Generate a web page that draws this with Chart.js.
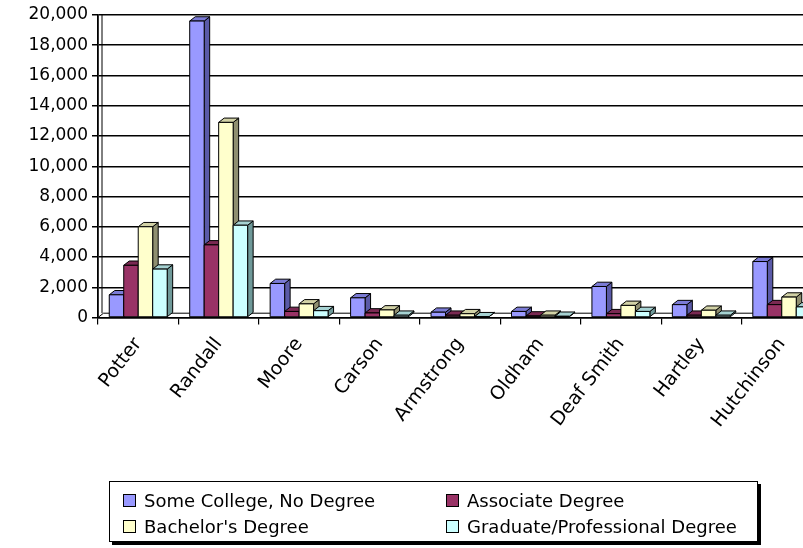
<!DOCTYPE html>
<html>
<head>
<meta charset="utf-8">
<script src="https://cdn.jsdelivr.net/npm/chart.js@4/dist/chart.umd.min.js"></script>
<style>
  html, body { margin: 0; padding: 0; background: #fff; overflow: hidden; }
  #wrap { position: relative; width: 803px; height: 548px; overflow: hidden; }
  #chart { position: absolute; left: 0; top: 0; }
  #legend {
    position: absolute; left: 109px; top: 481px; width: 649px; height: 61px;
    border: 1px solid #000; box-shadow: 3px 3px 0 #000; background: #fff;
    box-sizing: border-box; padding: 5px 0 0 13px;
    display: grid; grid-template-columns: 323px auto; grid-auto-rows: 26px;
    font-family: "DejaVu Sans", sans-serif; font-size: 18px; color: #000;
  }
  .item { display: flex; align-items: center; white-space: nowrap; }
  .swatch { width: 11px; height: 11px; border: 1px solid #000; margin-right: 8px; }
</style>
</head>
<body>
<div id="wrap">
  <canvas id="chart" width="832" height="548"></canvas>
  <div id="legend"></div>
</div>
<script>
const CATEGORIES = ["Potter", "Randall", "Moore", "Carson", "Armstrong", "Oldham", "Deaf Smith", "Hartley", "Hutchinson"];
const SERIES_NAMES = ["Some College, No Degree", "Associate Degree", "Bachelor's Degree", "Graduate/Professional Degree"];
const SOME_COLLEGE = [1500, 19600, 2250, 1300, 350, 400, 2050, 850, 3700];
const ASSOCIATE = [3450, 4800, 400, 300, 150, 100, 250, 150, 850];
const BACHELOR = [6000, 12900, 900, 500, 250, 150, 800, 480, 1350];
const GRADUATE = [3200, 6100, 450, 150, 50, 80, 400, 150, 700];
const Y_MAX = 20000;
const Y_STEP = 2000;

// front / top / side colours for the fake 3D columns
const FACES = [
  { front: "#9999FF", top: "#7b7bd6", side: "#5a5aa8" },
  { front: "#993366", top: "#7a2952", side: "#5c1f3d" },
  { front: "#FFFFCC", top: "#d2d2a6", side: "#8f8f70" },
  { front: "#CCFFFF", top: "#a6d2d2", side: "#6f9999" }
];
const DX = 5.5, DY = 4.3;
const FONT = { family: "'DejaVu Sans', sans-serif", size: 17 };

const columns3d = {
  id: "columns3d",
  beforeDatasetsDraw(chart) {
    const { ctx, chartArea } = chart;
    const zero = chart.scales.y.getPixelForValue(0);
    ctx.save();
    ctx.strokeStyle = "#000";
    ctx.lineWidth = 1;
    // thin side wall
    ctx.beginPath();
    ctx.moveTo(chartArea.left + 4, chartArea.top);
    ctx.lineTo(chartArea.left + 4, zero - DY);
    ctx.stroke();
    // floor
    ctx.fillStyle = "#fff";
    ctx.beginPath();
    ctx.moveTo(chartArea.left, zero);
    ctx.lineTo(chartArea.right, zero);
    ctx.lineTo(chartArea.right + DX, zero - DY);
    ctx.lineTo(chartArea.left + DX, zero - DY);
    ctx.closePath();
    ctx.fill();
    ctx.stroke();
    ctx.restore();
  },
  beforeDatasetDraw() {
    return false;
  },
  afterDatasetsDraw(chart) {
    const { ctx } = chart;
    ctx.save();
    ctx.strokeStyle = "#000";
    ctx.lineWidth = 1;
    ctx.lineJoin = "miter";
    chart.data.datasets.forEach((ds, di) => {
      const face = FACES[di];
      chart.getDatasetMeta(di).data.forEach(bar => {
        const { x, y, base, width } = bar.getProps(["x", "y", "base", "width"], true);
        const l = x - width / 2, r = x + width / 2;
        const poly = (pts, fill) => {
          ctx.beginPath();
          pts.forEach(([px, py], i) => (i ? ctx.lineTo(px, py) : ctx.moveTo(px, py)));
          ctx.closePath();
          ctx.fillStyle = fill;
          ctx.fill();
          ctx.stroke();
        };
        poly([[r, y], [r + DX, y - DY], [r + DX, base - DY], [r, base]], face.side);
        poly([[l, y], [l + DX, y - DY], [r + DX, y - DY], [r, y]], face.top);
        poly([[l, y], [r, y], [r, base], [l, base]], face.front);
      });
    });
    ctx.restore();
  }
};

const datasets = [SOME_COLLEGE, ASSOCIATE, BACHELOR, GRADUATE].map((values, i) => ({
  label: SERIES_NAMES[i],
  data: values,
  backgroundColor: FACES[i].front,
  borderColor: "#000",
  borderWidth: 1,
  categoryPercentage: 0.72,
  barPercentage: 1
}));

new Chart(document.getElementById("chart"), {
  type: "bar",
  data: { labels: CATEGORIES, datasets },
  plugins: [columns3d],
  options: {
    responsive: false,
    animation: false,
    layout: { padding: { top: 15, right: 10, left: 0, bottom: 0 } },
    plugins: { legend: { display: false }, tooltip: { enabled: false } },
    scales: {
      x: {
        offset: true,
        grid: { offset: true, drawOnChartArea: false, drawTicks: true, tickLength: 7, color: "#000", lineWidth: 1.2 },
        border: { color: "#000", width: 1.5 },
        ticks: { autoSkip: false, minRotation: 52, maxRotation: 52, padding: 9, color: "#000", font: { family: FONT.family, size: 19 } },
        afterFit: scale => { scale.height = 230.5; }
      },
      y: {
        min: 0,
        max: Y_MAX,
        grid: { color: "#000", lineWidth: 1.5, tickLength: 6 },
        border: { color: "#000", width: 1.8 },
        ticks: {
          stepSize: Y_STEP,
          padding: 4,
          color: "#000",
          font: FONT,
          callback: value => value.toLocaleString("en-US")
        },
        afterFit: scale => { scale.width = 98; }
      }
    }
  }
});

document.getElementById("legend").innerHTML = SERIES_NAMES.map((name, i) =>
  `<div class="item"><span class="swatch" style="background:${FACES[i].front}"></span>${name}</div>`
).join("");
</script>
</body>
</html>
